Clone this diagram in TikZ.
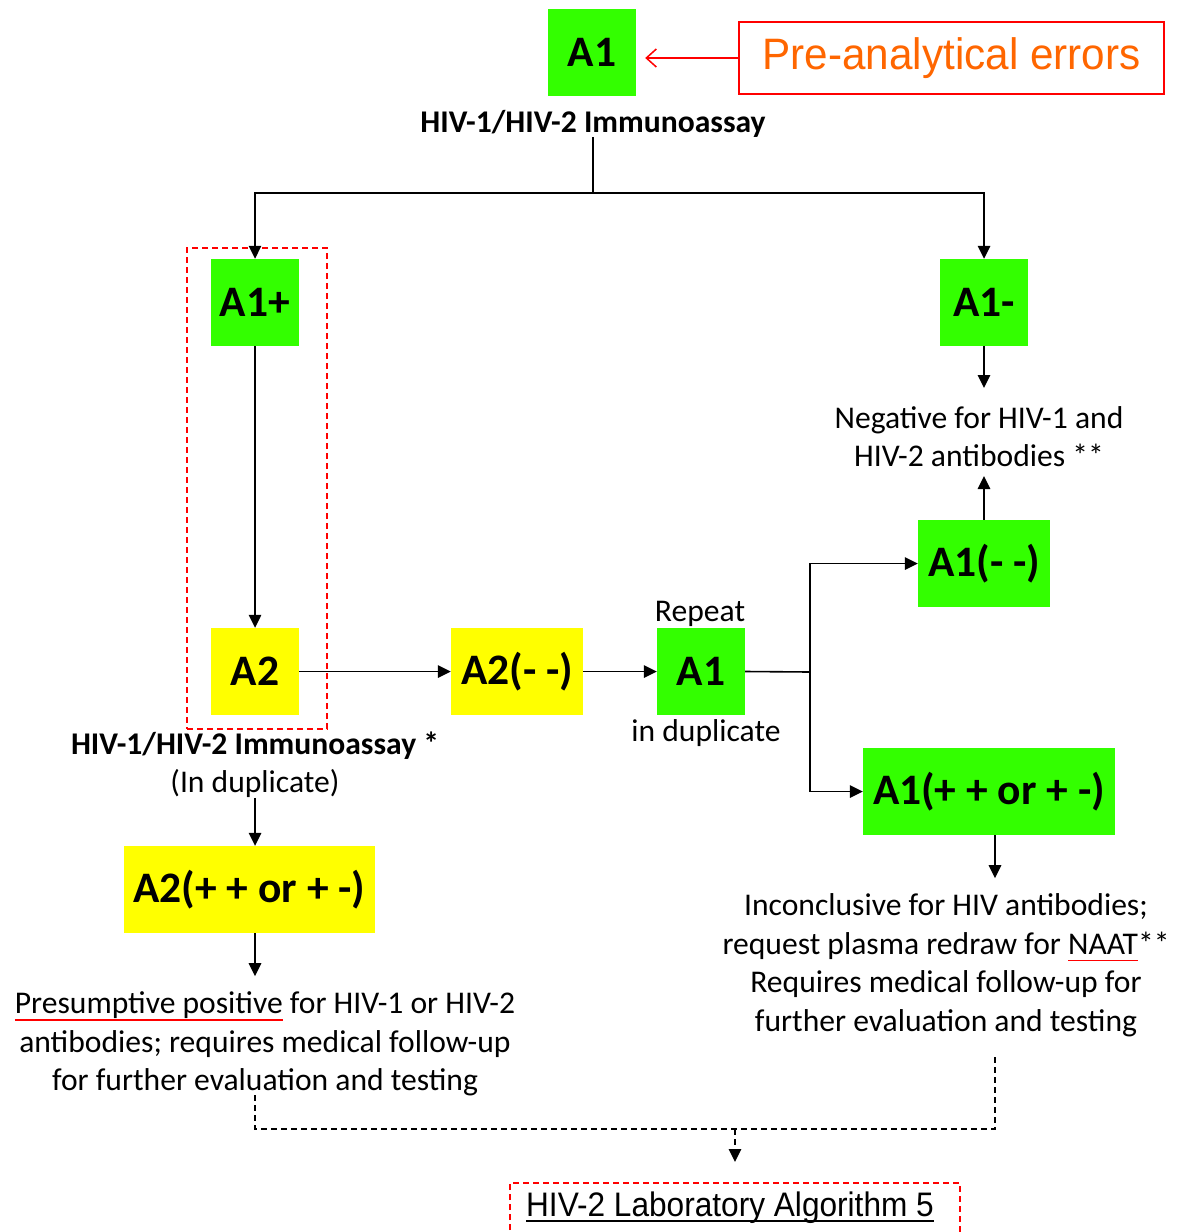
\documentclass[tikz,border=0pt]{standalone}
\usepackage{fontspec}
\setmainfont{Carlito}
\newfontfamily\prefont[FakeStretch=0.96]{Liberation Sans}
\newfontfamily\algfont[FakeStretch=0.93]{Liberation Sans}
\usetikzlibrary{arrows.meta}
\definecolor{boxgreen}{RGB}{51,255,0}
\definecolor{boxyellow}{RGB}{255,255,0}
\definecolor{errorange}{RGB}{255,102,0}
\newcommand\redul[1]{\setbox0\hbox{#1}\rlap{\color{red}\rule[-7pt]{\wd0}{1.5pt}}\box0\relax}
\newcommand\blkul[1]{\setbox0\hbox{#1}\rlap{\rule[-5pt]{\wd0}{2pt}}\box0\relax}
\begin{document}
\begin{tikzpicture}[x=1pt,y=-1pt,
  lbl/.style={inner sep=0pt, font=\fontsize{43.5}{48}\selectfont\bfseries},
  gbox/.style={lbl, fill=boxgreen, minimum height=87},
  ybox/.style={lbl, fill=boxyellow, minimum height=87},
  txt/.style={inner sep=0pt, align=center, font=\fontsize{31.6}{38.5}\selectfont},
  btxt/.style={inner sep=0pt, align=center, font=\fontsize{31.6}{38.5}\selectfont\bfseries},
  conn/.style={line width=1.6pt},
  arr/.style={conn, -{Triangle[length=13pt,width=12.5pt]}},
  reddash/.style={draw=red, line width=1.5pt, dash pattern=on 6pt off 4pt},
  blkdash/.style={line width=1.6pt, dash pattern=on 6pt off 4pt}]
\useasboundingbox (0,0) rectangle (1187,1232);
\fill[white] (0,0) rectangle (1187,1232);

% top
\node[gbox, minimum width=88] (a1) at (592,52) {A1};
\node[draw=red, line width=1.5pt, minimum width=425, minimum height=72, inner sep=0pt,
      font=\prefont\fontsize{44}{50}\selectfont, text=errorange] (pre) at (951.5,58) {Pre-analytical errors};
\draw[red, line width=1.5pt, -{Straight Barb[length=10pt,width=18pt]}, shorten >=9pt] (pre.west) -- (pre.west -| a1.east);
\node[btxt] (imm1) at (593,123.5) {HIV-1/HIV-2 Immunoassay};
\coordinate (split) at (593,193);

% left column
\node[reddash, minimum width=140, minimum height=481, inner sep=0pt] (grp) at (257,488.5) {};
\node[gbox, minimum width=88] (a1p) at (255,302.5) {A1+};
\node[ybox, minimum width=88] (a2) at (255,671.5) {A2};

% right column
\node[gbox, minimum width=88] (a1m) at (984,302.5) {A1-};
\node[txt] (neg) at (979,436.5) {Negative for HIV-1 and\\HIV-2 antibodies **};
\node[gbox, minimum width=132] (a1mm) at (984,563.5) {A1(- -)};

% middle row
\node[ybox, minimum width=132] (a2mm) at (517,671.5) {A2(- -)};
\node[gbox, minimum width=88] (a1r) at (701,671.5) {A1};
\node[txt] (rep) at (700,613.5) {Repeat};
\node[txt] (dup) at (706,733.5) {in duplicate};
\coordinate (jn) at (810,672);
\node[gbox, minimum width=252] (a1pp) at (989,791.5) {A1(+ + or + -)};
\node[txt] (inc) at (946,965) {Inconclusive for HIV antibodies;\\request plasma redraw for \redul{NAAT}**\\Requires medical follow-up for\\further evaluation and testing};

% lower left
\node[txt] (imm2) at (255,764.5) {\textbf{HIV-1/HIV-2 Immunoassay *}\\(In duplicate)};
\node[ybox, minimum width=251] (a2pp) at (249.5,889.5) {A2(+ + or + -)};
\node[txt] (pres) at (265,1044) {\redul{Presumptive positive} for HIV-1 or HIV-2\\antibodies; requires medical follow-up\\for further evaluation and testing};

% bottom
\coordinate (dl) at (255,1095);
\coordinate (dr) at (995,1055);
\coordinate (dm) at (735,1129);
\coordinate (dend) at (735,1162);
\node[inner sep=0pt, font=\algfont\fontsize{34}{40}\selectfont] (alg) at (730,1208) {\blkul{HIV-2 Laboratory Algorithm 5}};
\draw[reddash] (510,1240) -- (510,1183) -- (960,1183) -- (960,1240);

% connectors
\draw[conn] (imm1.south) -- (split);
\draw[arr] (split) -| (a1p.north);
\draw[arr] (split) -| (a1m.north);
\draw[arr] (a1p.south) -- (a2.north);
\draw[arr] (a1m.south) -- (a1m.south |- 0,388);
\draw[arr] (a1mm.north) -- (a1mm.north |- 0,476);
\draw[arr] (a2.east) -- (a2mm.west);
\draw[arr] (a2mm.east) -- (a1r.west);
\draw[conn] (a1r.east) -- (jn);
\draw[arr] (jn) |- (a1mm.west);
\draw[arr] (jn) |- (a1pp.west);
\draw[arr] ([xshift=6pt]a1pp.south) -- ++(0,43);
\draw[arr] (imm2.south) -- (imm2.south |- a2pp.north);
\draw[arr] ([xshift=5.5pt]a2pp.south) -- ++(0,43);
\draw[blkdash] (dl) |- (dm) -| (dr);
\draw[blkdash, -{Triangle[length=13pt,width=12.5pt]}] (dm) -- (dend);
\end{tikzpicture}
\end{document}
